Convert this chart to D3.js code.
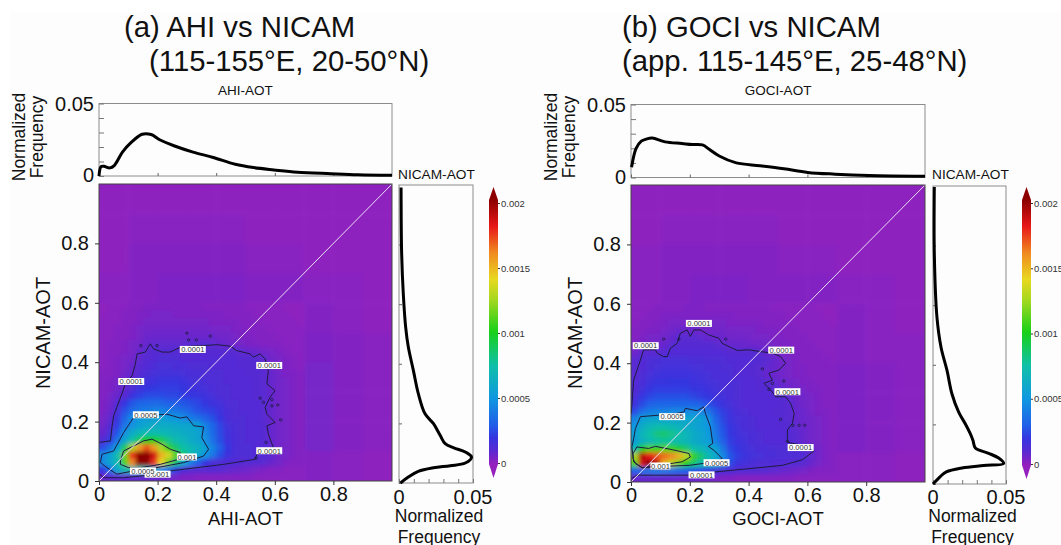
<!DOCTYPE html>
<html>
<head>
<meta charset="utf-8">
<script src="https://cdn.jsdelivr.net/npm/d3@7"></script>
<style>
  body { margin: 0; background: #fff; }
  svg { display: block; font-family: "Liberation Sans", Arial, sans-serif; }
</style>
</head>
<body>
<div id="container"></div>
<script>
/* CONSTANTS AND GLOBALS */
const width = 1061;
const height = 545;

/* DATA */
// heatmap values in units of 1e-5, fine bins 0.025 wide, bottom row first, x up to 0.7, y up to 0.6
const gridA = [
  [7,9,9,9,9,9,8,8,7,6,5,4,4,3,3,3,3,3,3,3,3,2,2,2,2,2,2,2],
  [20,35,60,70,75,75,70,60,45,35,22,14,11,10,10,11,10,9,8,7,6,5,4,3,3,2,2,2],
  [45,58,72,110,160,200,200,175,140,115,85,60,42,30,20,14,13,12,12,11,11,11,10,8,6,4,3,3],
  [45,55,72,115,175,200,200,185,150,135,110,85,70,60,50,38,26,18,14,13,13,12,12,10,6,5,4,3],
  [25,35,55,88,125,155,170,155,125,105,85,75,70,65,55,42,30,20,14,13,13,12,12,9,6,5,4,3],
  [12,22,38,58,75,90,100,100,90,80,72,68,62,58,48,36,26,18,14,13,12,12,11,8,6,5,4,3],
  [8,15,28,48,62,68,72,72,70,68,65,62,60,58,45,34,25,17,14,13,12,12,11,8,6,5,4,3],
  [6,12,22,38,48,55,60,62,62,62,60,58,58,55,42,32,24,16,14,13,12,12,11,8,6,5,4,3],
  [5,9,18,32,45,52,54,55,56,52,50,46,40,36,30,26,20,14,13,13,12,12,10,8,6,5,4,3],
  [4,7,14,26,34,38,40,42,42,40,38,34,30,26,24,22,18,14,13,12,12,12,10,8,6,5,4,3],
  [4,6,12,20,28,32,33,34,33,30,30,28,26,24,20,18,16,13,13,12,12,12,10,8,6,5,4,3],
  [3,5,8,11,18,22,25,25,25,24,24,22,20,19,17,15,13,13,12,12,12,11,10,8,6,5,4,3],
  [3,4,6,9,13,18,20,21,22,22,22,20,18,17,15,14,13,13,12,12,12,11,10,8,6,5,4,3],
  [3,4,5,8,11,15,17,18,19,19,19,18,16,15,14,13,13,12,12,12,12,11,10,8,6,5,4,3],
  [3,3,4,6,8,11,14,15,16,16,16,15,14,14,13,13,13,12,12,12,11,11,10,8,6,4,4,3],
  [2,3,4,5,7,10,12,14,15,15,14,14,13,13,13,12,12,12,12,11,11,11,10,7,5,4,3,2],
  [2,3,4,5,6,9,11,12,13,13,13,12,12,12,12,12,12,12,12,11,11,10,9,6,5,4,3,2],
  [2,3,3,4,5,8,10,11,11,11,11,11,11,11,11,11,11,11,10,9,8,7,6,5,4,3,2,2],
  [2,3,3,4,5,6,8,9,9,9,9,9,10,10,10,9,8,7,6,5,4,4,3,3,3,2,2,2],
  [2,2,3,3,4,5,7,7,7,7,7,7,7,7,7,7,6,6,5,4,4,3,3,3,2,2,2,2],
  [2,2,3,3,4,5,6,6,6,6,6,6,6,6,6,5,5,5,4,4,3,3,3,2,2,2,2,2],
  [2,2,2,3,3,4,5,5,5,5,5,5,5,5,5,4,4,4,4,3,3,3,2,2,2,2,2,1],
  [1,2,2,3,3,4,4,5,5,5,4,4,4,4,4,4,4,3,3,3,3,2,2,2,2,2,1,1],
  [1,2,2,2,3,3,4,4,4,4,4,4,4,4,3,3,3,3,3,3,2,2,2,2,2,1,1,1]
];
const gridB = [
  [7,8,8,8,8,8,7,7,7,6,6,5,4,4,3,3,3,3,3,3,3,3,2,2,2,2,2,2],
  [30,35,38,40,38,35,32,30,28,24,20,16,13,12,11,11,11,10,10,9,8,7,6,5,4,3,3,3],
  [110,185,200,190,150,130,115,100,85,75,68,58,42,25,18,16,14,13,13,12,12,11,11,10,8,5,4,3],
  [125,190,180,170,165,160,150,130,105,85,70,60,45,28,22,18,16,15,14,14,13,13,13,11,9,6,4,3],
  [70,100,110,105,110,105,95,85,75,68,62,55,38,24,20,17,15,14,14,13,13,13,12,11,8,6,4,3],
  [55,65,70,75,78,75,72,68,62,58,55,42,30,22,18,16,14,13,12,12,12,12,10,8,6,5,4,3],
  [55,68,75,82,85,80,75,68,62,58,52,38,28,20,17,15,14,13,12,12,12,11,10,8,6,5,4,3],
  [50,62,68,72,72,70,66,62,58,55,50,36,26,20,16,14,13,12,12,12,11,11,9,7,6,5,4,3],
  [42,55,58,58,58,58,58,58,58,56,48,32,24,18,15,14,13,12,12,12,11,10,8,7,6,5,4,3],
  [25,35,40,42,42,44,44,44,46,44,38,28,22,17,14,13,12,12,12,11,11,10,8,7,5,4,4,3],
  [18,25,30,32,32,32,32,32,32,30,26,22,18,15,13,12,12,12,12,12,11,10,8,6,5,4,3,3],
  [14,20,24,26,26,26,26,26,24,22,20,18,16,14,13,12,12,12,12,11,11,9,7,6,5,4,3,3],
  [12,16,20,22,22,22,22,22,20,19,18,16,15,14,13,12,12,11,11,10,9,7,6,5,4,4,3,3],
  [11,14,17,19,19,20,20,20,18,17,16,15,14,14,13,12,12,11,10,9,7,6,5,4,4,3,3,3],
  [10,13,15,17,18,18,18,18,17,16,15,14,14,13,12,12,11,10,8,7,6,5,4,4,3,3,3,3],
  [10,12,14,15,16,16,16,16,15,15,14,14,13,13,12,12,11,10,9,8,6,5,4,4,3,3,3,3],
  [10,11,13,14,15,15,15,15,14,14,13,13,13,12,12,12,12,11,10,8,6,5,4,3,3,3,3,2],
  [6,10,10,10,10,12,12,12,12,12,12,12,12,11,11,11,11,10,8,6,5,4,4,3,3,3,2,2],
  [4,5,6,6,8,10,11,11,11,11,11,10,9,8,8,7,7,6,6,5,4,4,3,3,3,2,2,2],
  [3,4,5,5,6,8,10,10,10,9,8,7,7,6,6,6,5,5,5,4,4,3,3,3,2,2,2,2],
  [3,3,4,4,5,6,7,7,7,6,6,6,6,5,5,5,5,4,4,4,3,3,3,2,2,2,2,2],
  [2,3,3,4,4,5,5,5,5,5,5,5,5,4,4,4,4,4,3,3,3,3,2,2,2,2,2,1],
  [2,2,3,3,4,4,4,4,4,4,4,4,4,4,3,3,3,3,3,3,3,2,2,2,2,2,1,1],
  [2,2,2,3,3,3,3,4,4,4,3,3,3,3,3,3,3,3,3,2,2,2,2,2,2,1,1,1]
];
// coarse background, bins 0.1 wide, bottom row first
const coarseA = [
  [3,3,3,3,3,3,3,3,2,1],
  [5,5,5,5,5,5,5,5,3,2],
  [5,5,5,5,5,5,5,5,3,2],
  [5,5,5,5,5,5,5,5,3,2],
  [4,4,4,4,4,4,4,4,3,2],
  [3,4,5,5,5,4,4,3,2,1],
  [2,3,4,4,4,3,3,2,2,1],
  [1,3,3,3,3,2,2,1,1,1],
  [1,2,2,2,2,1,1,1,1,1],
  [1,1,1,1,1,1,1,1,1,1]
];
const coarseB = [
  [3,3,3,3,3,3,3,2,2,1],
  [5,5,5,5,5,5,5,4,3,2],
  [5,5,5,5,5,5,5,4,3,2],
  [5,5,5,5,5,5,5,4,3,2],
  [4,4,4,4,4,4,4,3,2,2],
  [3,4,5,5,5,4,3,3,2,1],
  [2,3,4,4,3,3,3,2,2,1],
  [2,3,3,3,3,2,2,1,1,1],
  [1,2,2,2,2,1,1,1,1,1],
  [1,1,1,1,1,1,1,1,1,1]
];

// contour lines [x, y]
const contourA1 = [[.002,.13],[.039,.135],[.044,.18],[.05,.22],[.078,.293],[.09,.327],[.113,.355],[.124,.394],[.13,.428],[.158,.434],[.175,.462],[.186,.445],[.215,.434],[.243,.434],[.277,.45],[.311,.454],[.357,.456],[.402,.459],[.448,.454],[.47,.439],[.516,.428],[.527,.417],[.55,.428],[.567,.411],[.578,.372],[.573,.327],[.601,.304],[.584,.282],[.567,.248],[.573,.225],[.601,.197],[.573,.186],[.578,.158],[.595,.113],[.539,.09],[.533,.073],[.425,.056],[.334,.045],[.243,.034],[.175,.02],[.084,.011],[.016,.011],[.002,.023]];
const contourA5 = [[.01,.09],[.05,.101],[.084,.163],[.118,.214],[.164,.22],[.232,.225],[.277,.212],[.3,.216],[.323,.186],[.357,.182],[.351,.146],[.374,.107],[.357,.084],[.289,.062],[.198,.045],[.118,.034],[.061,.023],[.027,.045],[.005,.062],[.01,.09]];
const contourA10 = [[.073,.068],[.084,.101],[.118,.118],[.152,.135],[.181,.141],[.215,.124],[.243,.107],[.277,.096],[.272,.073],[.209,.056],[.141,.045],[.101,.045],[.073,.056],[.073,.068]];
const contourB1 = [[.001,.231],[.009,.343],[.032,.411],[.043,.445],[.083,.445],[.089,.434],[.111,.422],[.123,.422],[.134,.45],[.157,.467],[.168,.501],[.191,.512],[.202,.49],[.214,.512],[.236,.512],[.265,.495],[.299,.484],[.31,.467],[.333,.456],[.361,.443],[.401,.445],[.441,.439],[.481,.434],[.509,.422],[.526,.4],[.503,.377],[.469,.366],[.481,.343],[.452,.332],[.475,.31],[.492,.287],[.526,.287],[.543,.265],[.555,.231],[.549,.197],[.532,.175],[.532,.135],[.549,.13],[.583,.124],[.623,.105],[.583,.075],[.515,.056],[.401,.045],[.288,.034],[.197,.023],[.083,.023],[.02,.023],[.001,.011]];
const contourB5 = [[.009,.146],[.015,.18],[.032,.22],[.094,.225],[.128,.225],[.18,.236],[.185,.248],[.225,.24],[.248,.253],[.253,.231],[.27,.186],[.278,.13],[.263,.12],[.282,.107],[.31,.079],[.288,.068],[.197,.056],[.117,.053],[.038,.048],[.009,.068],[.003,.118],[.009,.146]];
const contourB10 = [[.007,.096],[.02,.118],[.06,.113],[.083,.12],[.14,.109],[.197,.096],[.202,.084],[.174,.068],[.094,.056],[.038,.048],[.015,.062],[.007,.079],[.007,.096]];

// little closed contours outside the main 0.0001 line
const islandsA = [[.143,.456],[.198,.456],[.3,.498],[.306,.475],[.332,.475],[.38,.488],[.57,.13],[.55,.279],[.561,.265],[.59,.274],[.59,.253],[.61,.256],[.62,.206],[.536,.077]];
const islandsB = [[.111,.481],[.163,.481],[.322,.481],[.509,.211],[.532,.137],[.551,.191],[.572,.191],[.591,.191],[.447,.381],[.481,.332],[.469,.312],[.52,.34]];

// contour labels [x, y, text]
const labelsA = [[.32,.443,"0.0001"],[.581,.389,"0.0001"],[.11,.335,"0.0001"],[.581,.102,"0.0001"],[.16,.223,"0.0005"],[.30,.081,"0.001"],[.2,.023,"0.0001"],[.15,.034,"0.0005"]];
const labelsB = [[.231,.534,"0.0001"],[.05,.459,"0.0001"],[.511,.444,"0.0001"],[.532,.304,"0.0001"],[.577,.116,"0.0001"],[.14,.22,"0.0005"],[.1,.054,"0.001"],[.291,.065,"0.0005"],[.24,.024,"0.0001"]];

// marginal curves: [aot, frequency]
const topA = [[0,0],[.007,.0065],[.017,.0067],[.037,.0056],[.052,.0072],[.08,.0165],[.109,.023],[.147,.0288],[.178,.0286],[.207,.025],[.258,.0207],[.321,.0165],[.39,.0128],[.465,.0081],[.528,.0058],[.597,.0042],[.677,.0026],[.792,.0016],[.884,.0009],[1,.0005]];
const topB = [[.002,.007],[.017,.0198],[.035,.0249],[.052,.0263],[.072,.027],[.116,.0244],[.173,.0233],[.208,.0226],[.243,.0223],[.266,.0193],[.3,.0147],[.358,.01],[.439,.0081],[.52,.006],[.601,.0035],[.694,.0023],[.809,.0014],[1,.0009]];
const rightA = [[0,.001],[.02,.0063],[.039,.013],[.051,.0233],[.058,.0346],[.067,.0448],[.087,.049],[.104,.0448],[.118,.037],[.132,.0312],[.16,.0278],[.199,.0233],[.232,.0176],[.299,.0131],[.378,.0097],[.456,.0063],[.523,.0045],[.635,.0029],[.769,.0018],[.992,.0014]];
const rightB = [[0,0],[.025,.005],[.041,.0091],[.054,.0199],[.062,.0347],[.069,.0484],[.087,.045],[.103,.0381],[.121,.029],[.146,.0274],[.168,.0256],[.202,.0221],[.241,.0176],[.302,.013],[.381,.0096],[.459,.0055],[.56,.0027],[.773,.0009],[.997,.0009]];

const aotTicks = [0, .2, .4, .6, .8];
const freqTicks = [0, .01, .02, .03, .04, .05];
const barTicks = [0, .0005, .001, .0015, .002];
const colorStops = [0, .0001, .0002, .0003, .0005, .00075, .001, .00125, .0014, .0016, .0018, .002];
const colorValues = ["#9420bd", "#5a2ad2", "#3535e0", "#2060e8", "#1098e0", "#10c0a8", "#18d018", "#a8d820", "#e8d820", "#f08a20", "#e81818", "#8c0000"];

const color = d3.scaleLinear().domain(colorStops).range(colorValues).clamp(true);

/* HTML ELEMENTS */
const svg = d3.select("#container").append("svg").attr("width", width).attr("height", height);
svg.append("rect").attr("x", 10).attr("y", 12).attr("width", width).attr("height", height).attr("fill", "#fdfdfd");

const defs = svg.append("defs");
defs.append("filter").attr("id", "soft")
  .attr("x", "-5%").attr("y", "-5%").attr("width", "110%").attr("height", "110%")
  .append("feGaussianBlur").attr("stdDeviation", 2);
defs.append("filter").attr("id", "soft2")
  .append("feGaussianBlur").attr("stdDeviation", 0.3);
const grad = defs.append("linearGradient").attr("id", "barGrad")
  .attr("x1", 0).attr("x2", 0).attr("y1", 1).attr("y2", 0);
colorStops.forEach((s, i) => grad.append("stop").attr("offset", s / .002).attr("stop-color", colorValues[i]));

function textAt(x, y, str, size, anchor) {
  return svg.append("text").attr("x", x).attr("y", y).attr("font-size", size)
    .attr("text-anchor", anchor || "middle").attr("fill", "#111").text(str);
}

function drawPanel(p) {
  const xScale = d3.scaleLinear().domain([0, 1]).range([p.left, p.right]);
  const yScale = d3.scaleLinear().domain([0, 1]).range([p.bottom, p.top]);
  const topY = d3.scaleLinear().domain([0, .05]).range([p.topBottom, p.topTop]);
  const rightY = d3.scaleLinear().domain([0, 1]).range([p.rBottom, p.rTop]);
  const rightX = d3.scaleLinear().domain([0, .05]).range([p.rLeft, p.rRight]);

  // heatmap
  const clipId = "clip" + p.id;
  defs.append("clipPath").attr("id", clipId).append("rect")
    .attr("x", p.left).attr("y", p.top).attr("width", p.right - p.left).attr("height", p.bottom - p.top);
  const plot = svg.append("g").attr("clip-path", `url(#${clipId})`);
  const cellsG = plot.append("g").attr("filter", "url(#soft)");
  const pad = 9; // edge cells run past the frame so the blur does not fade at the border

  function drawCells(grid, bin) {
    grid.forEach((row, j) => row.forEach((v, i) => {
      const x0 = xScale(i * bin) - (i === 0 ? pad : 0);
      const x1 = xScale((i + 1) * bin) + (i * bin + bin >= 1 ? pad : .5);
      const y1 = yScale(j * bin) + (j === 0 ? pad : 0);
      const y0 = yScale((j + 1) * bin) - (j * bin + bin >= 1 ? pad : .5);
      cellsG.append("rect").attr("x", x0).attr("y", y0)
        .attr("width", x1 - x0).attr("height", y1 - y0)
        .attr("fill", color(v * 1e-5));
    }));
  }
  drawCells(p.coarse, .1);
  drawCells(p.grid, .025);

  // contours
  const line = d3.line().x(d => xScale(d[0])).y(d => yScale(d[1]));
  const contourG = plot.append("g").attr("filter", "url(#soft2)");
  p.contours.forEach(c => contourG.append("path").attr("d", line(c))
    .attr("fill", "none").attr("stroke", "#1c1c40").attr("stroke-width", 1));
  contourG.selectAll("circle").data(p.islands).join("circle")
    .attr("cx", d => xScale(d[0])).attr("cy", d => yScale(d[1])).attr("r", 1.2)
    .attr("fill", "none").attr("stroke", "#1c1c40").attr("stroke-width", .8);

  // 1:1 line
  plot.append("line").attr("x1", xScale(0)).attr("y1", yScale(0)).attr("x2", xScale(1)).attr("y2", yScale(1))
    .attr("stroke", "#eadcf2").attr("stroke-width", 1);

  // contour labels
  const lab = plot.selectAll("g.lab").data(p.labels).join("g").attr("class", "lab")
    .attr("transform", d => `translate(${xScale(d[0])},${yScale(d[1])})`);
  lab.append("rect").attr("x", d => d[2].length > 5 ? -13 : -10).attr("y", -3.5)
    .attr("width", d => d[2].length > 5 ? 26 : 20).attr("height", 7).attr("fill", "#fff");
  lab.append("text").attr("y", 2.8).attr("text-anchor", "middle").attr("font-size", 7.6)
    .attr("fill", "#333").text(d => d[2]);

  // frames
  svg.append("rect").attr("x", p.left).attr("y", p.top).attr("width", p.right - p.left).attr("height", p.bottom - p.top)
    .attr("fill", "none").attr("stroke", "#444").attr("stroke-width", 1);
  svg.append("rect").attr("x", p.left).attr("y", p.topTop).attr("width", p.right - p.left).attr("height", p.topBottom - p.topTop)
    .attr("fill", "none").attr("stroke", "#8c8c8c").attr("stroke-width", 1);
  svg.append("rect").attr("x", p.rLeft).attr("y", p.rTop).attr("width", p.rRight - p.rLeft).attr("height", p.rBottom - p.rTop)
    .attr("fill", "none").attr("stroke", "#8c8c8c").attr("stroke-width", 1);

  // axes
  const xAxisGroup = svg.append("g").attr("transform", `translate(0,${p.bottom})`)
    .call(d3.axisBottom(xScale).tickValues(aotTicks).tickSize(4).tickFormat(d3.format("~g")));
  const yAxisGroup = svg.append("g").attr("transform", `translate(${p.left},0)`)
    .call(d3.axisLeft(yScale).tickValues(aotTicks).tickSize(4).tickFormat(d3.format("~g")));
  [xAxisGroup, yAxisGroup].forEach(g => {
    g.select(".domain").remove();
    g.selectAll("text").attr("font-size", 20).attr("font-family", "Liberation Sans").attr("fill", "#111");
    g.selectAll("line").attr("stroke", "#333");
  });
  xAxisGroup.selectAll("text").attr("dy", "0.71em").attr("y", 6);
  yAxisGroup.selectAll("text").attr("x", -10);

  // marginal ticks
  svg.append("g").attr("transform", `translate(0,${p.topBottom})`)
    .call(d3.axisTop(xScale).tickValues(aotTicks).tickSize(3).tickFormat(""))
    .call(g => g.select(".domain").remove()).selectAll("line").attr("stroke", "#666");
  svg.append("g").attr("transform", `translate(${p.left},0)`)
    .call(d3.axisRight(topY).tickValues(freqTicks).tickSize(5).tickFormat(""))
    .call(g => g.select(".domain").remove()).selectAll("line").attr("stroke", "#777");
  svg.append("g").attr("transform", `translate(${p.rLeft},0)`)
    .call(d3.axisRight(rightY).tickValues(aotTicks).tickSize(3).tickFormat(""))
    .call(g => g.select(".domain").remove()).selectAll("line").attr("stroke", "#666");
  svg.append("g").attr("transform", `translate(0,${p.rBottom})`)
    .call(d3.axisTop(rightX).tickValues(freqTicks).tickSize(4).tickFormat(""))
    .call(g => g.select(".domain").remove()).selectAll("line").attr("stroke", "#777");

  // marginal curves
  const topLine = d3.line().x(d => xScale(d[0])).y(d => topY(d[1])).curve(d3.curveCatmullRom);
  const rightLine = d3.line().x(d => rightX(d[1])).y(d => rightY(d[0])).curve(d3.curveCatmullRom);
  svg.append("path").attr("d", topLine(p.topCurve)).attr("fill", "none").attr("stroke", "#000").attr("stroke-width", 3);
  svg.append("path").attr("d", rightLine(p.rightCurve)).attr("fill", "none").attr("stroke", "#000").attr("stroke-width", 3);

  // text
  p.titles.forEach(t => textAt(t[0], t[1], t[2], 29.3, "start"));
  textAt((p.left + p.right) / 2, 95, p.topName, 13.5);
  textAt(p.rLeft - 1, 179, "NICAM-AOT", 13.7, "start");
  textAt(p.left - 5, p.topTop + 7, "0.05", 20, "end");
  textAt(p.left - 5, p.topBottom + 6, "0", 20, "end");
  [["Normalized", p.left - 74], ["Frequency", p.left - 56]].forEach(t => {
    svg.append("text").attr("transform", `translate(${t[1]},137) rotate(-90)`)
      .attr("text-anchor", "middle").attr("font-size", 17.5).attr("fill", "#111").text(t[0]);
  });
  svg.append("text").attr("transform", `translate(${p.left - 49},333) rotate(-90)`)
    .attr("text-anchor", "middle").attr("font-size", 20).attr("fill", "#111").text("NICAM-AOT");
  textAt((p.left + p.right) / 2, 525, p.xName, 18.5);
  textAt(p.rLeft, 504, "0", 20);
  textAt(p.rRight, 504, "0.05", 20);
  textAt((p.rLeft + p.rRight) / 2 + 3, 522, "Normalized", 17.5);
  textAt((p.rLeft + p.rRight) / 2 + 3, 543, "Frequency", 17.5);

  // colour bar
  const barY = d3.scaleLinear().domain([0, .002]).range([p.barBottom, p.barTop]);
  const mid = (p.barLeft + p.barRight) / 2;
  const tri = d3.line();
  svg.append("path").attr("d", tri([[p.barLeft, barY(.002) - 3], [mid, barY(.002) - 16], [p.barRight, barY(.002) - 3]]) + "Z").attr("fill", "#8c0000");
  svg.append("path").attr("d", tri([[p.barLeft, barY(0) + 1], [mid, barY(0) + 15], [p.barRight, barY(0) + 1]]) + "Z").attr("fill", "#9420bd");
  svg.append("rect").attr("x", p.barLeft).attr("y", barY(.002) - 3).attr("width", p.barRight - p.barLeft)
    .attr("height", barY(0) - barY(.002) + 4).attr("fill", "url(#barGrad)");
  const barAxis = svg.append("g").attr("transform", `translate(${p.barRight},0)`)
    .call(d3.axisRight(barY).tickValues(barTicks).tickSize(2).tickPadding(1).tickFormat(d3.format("~g")));
  barAxis.select(".domain").remove();
  barAxis.selectAll("text").attr("font-size", 9.5).attr("font-family", "Liberation Sans").attr("fill", "#333");
  barAxis.selectAll("line").attr("stroke", "#333");
}

/* PANELS */
drawPanel({
  id: "A", grid: gridA, coarse: coarseA, islands: islandsA, labels: labelsA,
  contours: [contourA1, contourA5, contourA10], topCurve: topA, rightCurve: rightA,
  left: 99, right: 392, top: 184, bottom: 481,
  topTop: 103.5, topBottom: 176, rLeft: 399, rRight: 473, rTop: 185, rBottom: 483,
  barLeft: 489, barRight: 498, barTop: 203, barBottom: 463,
  titles: [[124, 37, "(a) AHI vs NICAM"], [149, 71, "(115-155°E, 20-50°N)"]],
  topName: "AHI-AOT", xName: "AHI-AOT"
});
drawPanel({
  id: "B", grid: gridB, coarse: coarseB, islands: islandsB, labels: labelsB,
  contours: [contourB1, contourB5, contourB10], topCurve: topB, rightCurve: rightB,
  left: 631, right: 925, top: 185, bottom: 482,
  topTop: 104.5, topBottom: 177.5, rLeft: 933, rRight: 1006, rTop: 186, rBottom: 484,
  barLeft: 1022, barRight: 1031, barTop: 203, barBottom: 464,
  titles: [[622, 37, "(b) GOCI vs NICAM"], [622, 71, "(app. 115-145°E, 25-48°N)"]],
  topName: "GOCI-AOT", xName: "GOCI-AOT"
});
</script>
</body>
</html>
